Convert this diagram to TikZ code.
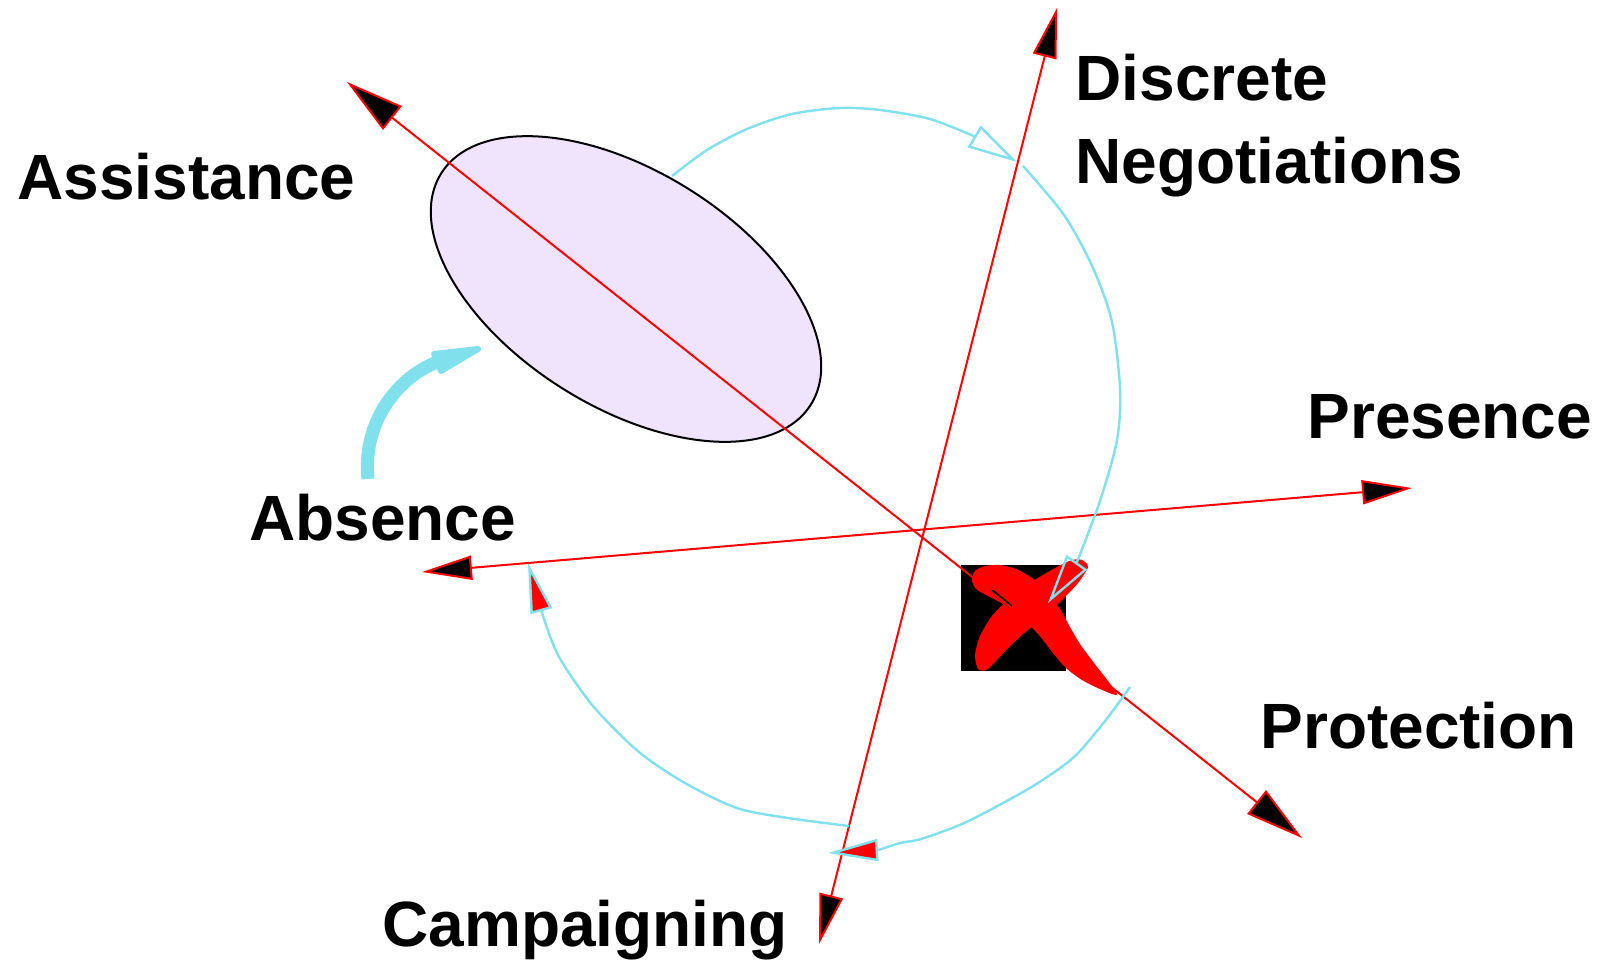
\documentclass[tikz,border=0pt]{standalone}
\usepackage{fontspec}
\setmainfont{Liberation Sans}
\usetikzlibrary{arrows.meta}
\definecolor{axisred}{RGB}{255,0,0}
\definecolor{cyclecyan}{RGB}{128,224,236}
\definecolor{zonefill}{RGB}{240,228,252}

\begin{document}
\begin{tikzpicture}[x=0.5pt,y=-0.5pt,
  axis/.style={draw=axisred, line width=1pt, line join=miter},
  bigtips/.style={{Triangle[length=29pt,width=15pt,fill=black]}-{Triangle[length=29pt,width=15pt,fill=black]}},
  smalltips/.style={{Triangle[length=25pt,width=12pt,fill=black]}-{Triangle[length=25pt,width=12pt,fill=black]}},
  cycle line/.style={draw=cyclecyan, line width=1.2pt, line cap=butt},
  open head/.style={cycle line, -{Triangle[open,length=25pt,width=12.5pt]}},
  red head/.style={cycle line, -{Triangle[length=25pt,width=11pt,fill=axisred]}},
  tag/.style={font=\bfseries\fontsize{32}{38}\selectfont, inner sep=0pt, anchor=base west},
  xmark/.style={fill=axisred, draw=none}]

\useasboundingbox (0,0) rectangle (1604,959);

% shaded zone
\draw[fill=zonefill, draw=black, line width=1pt, rotate around={-32:(626,289)}]
  (626,289) ellipse [x radius=218, y radius=118];

% blocked square with a brushed red cross
\fill[black] (961,565) rectangle (1066,671);
\fill[xmark] plot[smooth cycle, tension=0.45] coordinates {
  (975,571) (985,566) (1000,565) (1016,569) (1032,578) (1047,592) (1060,609)
  (1070,627) (1080,644) (1094,663) (1117,694) (1100,689) (1082,680) (1066,668)
  (1053,653) (1039,635) (1022,618) (1003,604) (988,596) (976,589) (972,580)};
\fill[xmark] plot[smooth cycle, tension=0.45] coordinates {
  (1082,560) (1088,567) (1078,583) (1062,600) (1043,618) (1023,634) (1008,648)
  (995,662) (986,670) (978,669) (975,655) (980,636) (992,616) (1010,598)
  (1033,581) (1057,567) (1072,560)};
\draw[black, line width=2pt, line cap=round] (993,592) -- (1010,606);

% axis end points
\coordinate (tAss) at (347,82);
\coordinate (tPro) at (1302,838);
\coordinate (tAbs) at (422,572);
\coordinate (tPre) at (1412,488);
\coordinate (tCam) at (819,944);
\coordinate (tDis) at (1057,8);

% axes
\draw[axis, bigtips] (tAss) -- (tPro);
\draw[axis, smalltips] (tAbs) -- (tPre);
\draw[axis, smalltips] (tCam) -- (tDis);

% cycle arcs
\coordinate (aTopB) at (973.5,136);  \coordinate (aTopT) at (1017,162);
\coordinate (aRgtB) at (1077,562);   \coordinate (aRgtT) at (1048,603);
\coordinate (aBotB) at (878.5,850);  \coordinate (aBotT) at (828,853);
\coordinate (aLftB) at (541,609.5);  \coordinate (aLftT) at (528,563);

\draw[cycle line] plot[smooth, tension=0.5] coordinates {
  (672,176) (707,150) (747,129) (792,114) (840,108) (880,110) (930,119) (aTopB)};
\draw[open head] (aTopB) -- (aTopT);

\draw[cycle line] plot[smooth, tension=0.5] coordinates {
  (1023,166) (1064,215) (1093,268) (1112,322) (1120,389) (1117,440) (1100,501) (aRgtB)};
\draw[open head] (aRgtB) -- (aRgtT);

\draw[cycle line] plot[smooth, tension=0.5] coordinates {
  (1130,687) (1105,721) (1074,757) (1038,783) (1003,803) (962,824) (921,839) (900,843) (aBotB)};
\draw[red head] (aBotB) -- (aBotT);

\draw[cycle line] plot[smooth, tension=0.5] coordinates {
  (849,826) (788,818) (737,808) (685,783) (639,752) (593,706) (558,655) (aLftB)};
\draw[red head] (aLftB) -- (aLftT);

% thick arrow towards the zone
\draw[cyclecyan, line width=6.5pt, line cap=butt]
  (368,479) .. controls (362,420) and (400,375) .. (440,361);
\filldraw[cyclecyan, line width=3pt, line join=round]
  (478,349) -- (434,354) -- (441,371) -- cycle;

% labels
\node[tag] (assistance) at (17,199) {Assistance};
\node[tag] (discrete) at (1075,100) {Discrete};
\node[tag] (negotiations) at (1075,183) {Negotiations};
\node[tag] (presence) at (1307,438) {Presence};
\node[tag] (absence) at (249,540) {Absence};
\node[tag] (protection) at (1260,748) {Protection};
\node[tag] (campaigning) at (382,946) {Campaigning};
\end{tikzpicture}
\end{document}
